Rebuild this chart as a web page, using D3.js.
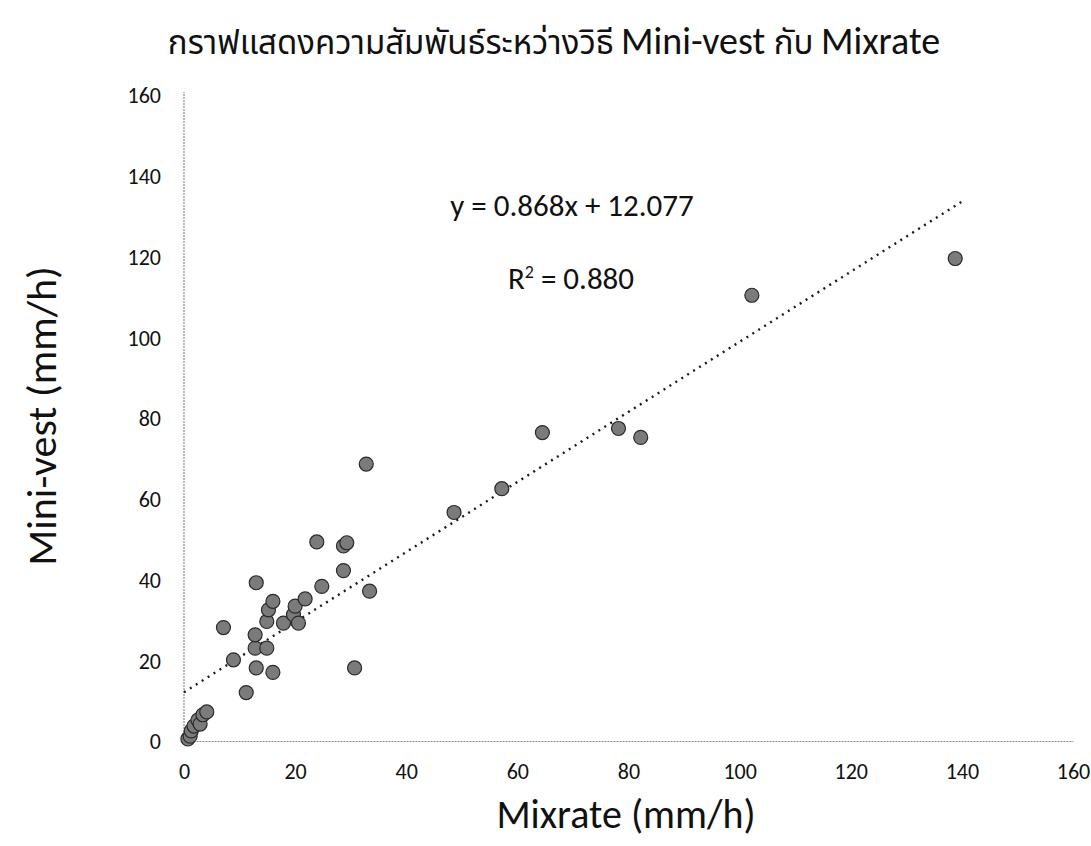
<!DOCTYPE html>
<html><head><meta charset="utf-8">
<script src="https://cdn.jsdelivr.net/npm/d3@7"></script>
<style>
body{margin:0;background:#fff;}
text{font-family:Carlito, Lato, "Noto Sans Thai", "Noto Sans", sans-serif;fill:#111;}
</style></head>
<body><svg id="c" width="1091" height="846"></svg>
<script>
const mixrate = [0.7,1.1,1.3,1.8,2.5,2.9,3.4,4.1,11.2,7.1,8.9,13,16,12.8,14.9,12.8,14.9,15.2,16,17.9,19.7,20,20.6,21.8,13,24.8,28.7,23.9,28.7,29.3,30.7,33.4,32.8,48.6,57.2,64.5,78.2,82.2,102.2,138.8];
const miniVest = [0.5,1.2,2.5,3.7,5.2,4.2,6.5,7.2,12,28.1,20.1,18.1,17,23,23,26.3,29.6,32.5,34.6,29.2,31.3,33.4,29.2,35.2,39.2,38.3,42.2,49.3,48.3,49.1,18.1,37.1,68.6,56.6,62.5,76.4,77.4,75.2,110.4,119.5];
const ticks = [0,20,40,60,80,100,120,140,160];
const slope = 0.868, intercept = 12.077, r2 = "0.880";
const trendRange = [0,140];
const titleParts = [["กราฟแสดงความสัมพันธ์ระหว่างวิธี ","th"],["Mini-vest ","en"],["กับ ","th"],["Mixrate","en"]];
const xTitle = "Mixrate (mm/h)", yTitle = "Mini-vest (mm/h)";

const svg = d3.select("#c");
const x = d3.scaleLinear().domain([0,160]).range([184,1073]);
const y = d3.scaleLinear().domain([0,160]).range([741,95]);

// axes
const xAxis = d3.axisBottom(x).tickValues(ticks).tickSize(0).tickPadding(38);
const yAxis = d3.axisLeft(y).tickValues(ticks).tickSize(0).tickPadding(23);
const gx = svg.append("g").attr("transform",`translate(0,${y(0)})`).call(xAxis);
const gy = svg.append("g").attr("transform",`translate(${x(0)},0)`).call(yAxis);
[gx,gy].forEach(g=>{
  g.attr("font-size",null).attr("font-family",null);
  g.select(".domain").attr("stroke","#8a8a8a").attr("stroke-width",1.2).attr("stroke-dasharray","2,1");
  g.selectAll("text").style("font-size","22px").attr("fill","#111");
});
gx.selectAll("text").attr("dy","0");
gy.selectAll("text").attr("dy","0.36em");
gy.select(".domain").attr("d",`M0,${y(0)}V${y(160)-3}`);

// trendline
svg.append("line")
  .attr("x1",x(trendRange[0])).attr("y1",y(slope*trendRange[0]+intercept))
  .attr("x2",x(trendRange[1])).attr("y2",y(slope*trendRange[1]+intercept))
  .attr("stroke","#1a1a1a").attr("stroke-width",2.4).attr("stroke-dasharray","2,5");

// points
svg.append("g").selectAll("circle").data(mixrate.map((v,i)=>[v,miniVest[i]])).join("circle")
  .attr("cx",d=>x(d[0])).attr("cy",d=>y(d[1])).attr("r",7)
  .attr("fill","#7b7b7b").attr("stroke","#2a2a2a").attr("stroke-width",1.2);

// texts
const tt = svg.append("text").attr("x",554).attr("y",54).attr("text-anchor","middle");
tt.selectAll("tspan").data(titleParts).join("tspan")
  .style("font-size",d=>d[1]==="th"?"33px":"38px").text(d=>d[0]);
svg.append("text").attr("x",572).attr("y",216).attr("text-anchor","middle")
  .style("font-size","31px").text(`y = ${slope}x + ${intercept}`);
const rt = svg.append("text").attr("x",571).attr("y",289).attr("text-anchor","middle").style("font-size","31px");
rt.append("tspan").text("R");
rt.append("tspan").attr("baseline-shift","super").style("font-size","18px").text("2");
rt.append("tspan").text(" = " + r2);
svg.append("text").attr("x",626).attr("y",828).attr("text-anchor","middle")
  .style("font-size","40px").text(xTitle);
svg.append("text").attr("transform","translate(56,416) rotate(-90)").attr("text-anchor","middle")
  .style("font-size","42px").text(yTitle);
</script></body></html>
